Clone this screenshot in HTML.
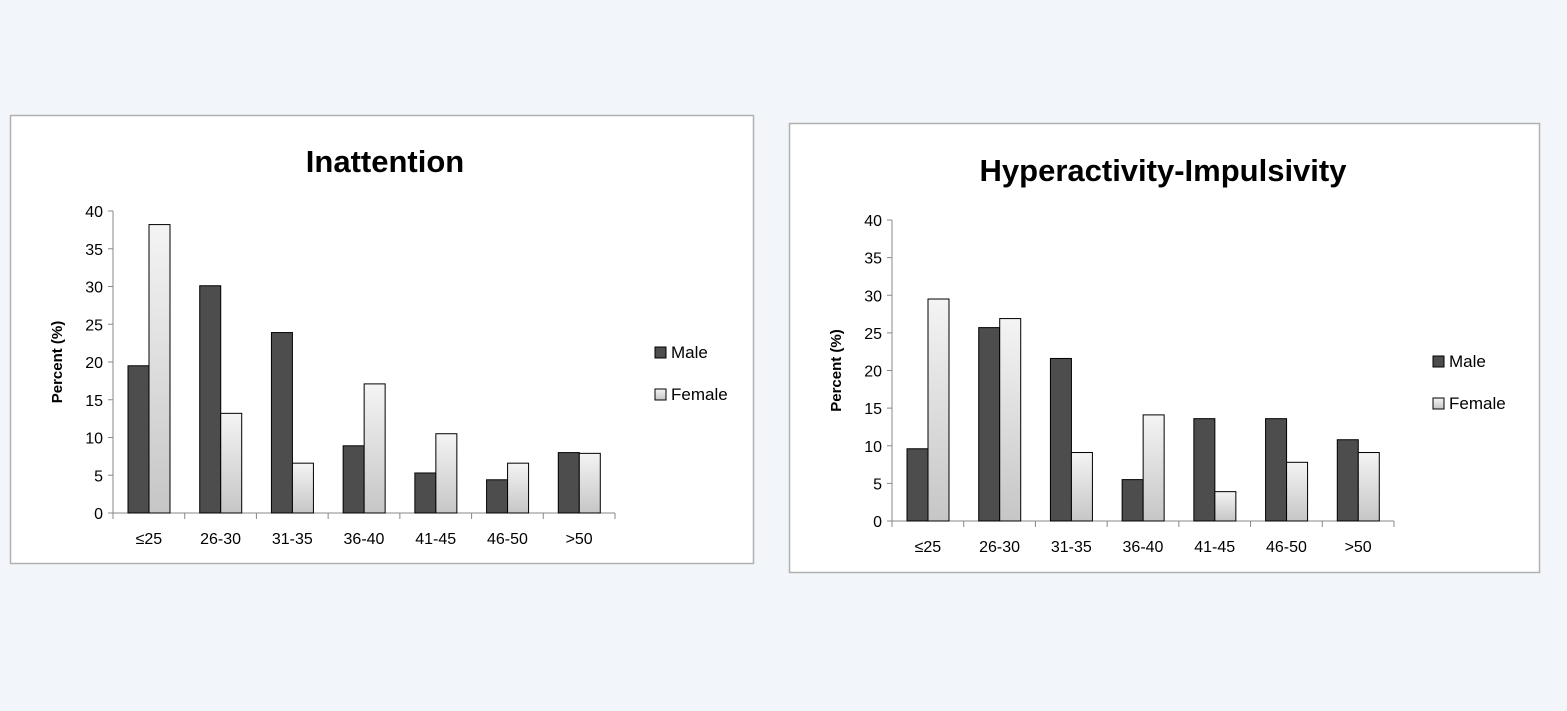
<!DOCTYPE html>
<html><head><meta charset="utf-8">
<style>
body{margin:0;width:1567px;height:711px;background:#f2f6fa;overflow:hidden;font-family:"Liberation Sans",sans-serif;}
svg{position:absolute;left:0;top:0}
</style></head>
<body>
<svg id="s" width="1567" height="711">
<defs><linearGradient id="fg" x1="0" y1="0" x2="0" y2="1"><stop offset="0" stop-color="#f4f4f4"/><stop offset="1" stop-color="#c6c6c6"/></linearGradient></defs>
</svg>
<script>
const categories=["≤25","26-30","31-35","36-40","41-45","46-50",">50"];
const inMale=[19.5,30.1,23.9,8.9,5.3,4.4,8.0];
const inFemale=[38.2,13.2,6.6,17.1,10.5,6.6,7.9];
const hiMale=[9.6,25.7,21.6,5.5,13.6,13.6,10.8];
const hiFemale=[29.5,26.9,9.1,14.1,3.9,7.8,9.1];
const yTicks=[0,5,10,15,20,25,30,35,40];
const NS="http://www.w3.org/2000/svg";
const svg=document.getElementById('s');
function el(t,a,p){const e=document.createElementNS(NS,t);for(const k in a)e.setAttribute(k,a[k]);(p||svg).appendChild(e);return e;}
function chart(o){
  const g=el('g',{});
  
  
  const bg=el('rect',{x:o.px+0.5,y:o.py+0.5,width:o.pw,height:o.ph,fill:'#fff',stroke:'#b0b0b0','stroke-width':1.5},g);
  
  const t=el('text',{x:o.tx,y:o.ty,'text-anchor':'middle','font-size':31,'font-weight':'bold',fill:'#000'},g);
  t.textContent=o.title;
  const y=v=>o.y0-(v/40)*(o.y0-o.y40);
  const cw=(o.x1-o.x0)/categories.length;
  el('line',{x1:o.x0,y1:o.y40,x2:o.x0,y2:o.y0,stroke:'#888','stroke-width':1},g);
  el('line',{x1:o.x0,y1:o.y0,x2:o.x1,y2:o.y0,stroke:'#888','stroke-width':1},g);
  yTicks.forEach(v=>{
    el('line',{x1:o.x0-5,y1:y(v),x2:o.x0,y2:y(v),stroke:'#888'},g);
    const tx=el('text',{x:o.x0-10,y:y(v)+6,'text-anchor':'end','font-size':16,fill:'#000'},g);
    tx.textContent=v;
  });
  for(let i=0;i<=categories.length;i++)el('line',{x1:o.x0+i*cw,y1:o.y0,x2:o.x0+i*cw,y2:o.y0+6,stroke:'#888'},g);
  const yl=el('text',{transform:`translate(${o.x0-51},${(o.y0+o.y40)/2}) rotate(-90)`,'text-anchor':'middle','font-size':15,'font-weight':'bold'},g);
  yl.textContent='Percent (%)';
  categories.forEach((c,i)=>{
    const cx=o.x0+i*cw;
    const bw=21;
    const m=el('rect',{x:cx+15,y:y(o.male[i]),width:bw,height:o.y0-y(o.male[i]),fill:'#4d4d4d',stroke:'#000','stroke-width':1},g);
    
    const f=el('rect',{x:cx+15+bw,y:y(o.female[i]),width:bw,height:o.y0-y(o.female[i]),fill:'url(#fg)',stroke:'#000','stroke-width':1},g);
    
    const l=el('text',{x:cx+cw/2,y:o.y0+31,'text-anchor':'middle','font-size':16},g);
    l.textContent=c;
  });
  [['Male','#4d4d4d',0],['Female','url(#fg)',42]].forEach(([n,fc,dy])=>{
    const lg=el('g',{},g);
    
    el('rect',{x:o.lx,y:o.ly+dy,width:11,height:11,fill:fc,stroke:'#000'},lg);
    const lt=el('text',{x:o.lx+16,y:o.ly+dy+11,'font-size':17},lg);lt.textContent=n;
  });
}
chart({name:'inattention-chart',title:'Inattention',male:inMale,female:inFemale,px:10,py:115,pw:743,ph:448,tx:385,ty:172,x0:113,x1:615,y0:513,y40:211,lx:655,ly:347});
chart({name:'hyperactivity-chart',title:'Hyperactivity-Impulsivity',male:hiMale,female:hiFemale,px:789,py:123,pw:750,ph:449,tx:1163,ty:181,x0:892,x1:1394,y0:521,y40:220,lx:1433,ly:356});
</script>
</body></html>
